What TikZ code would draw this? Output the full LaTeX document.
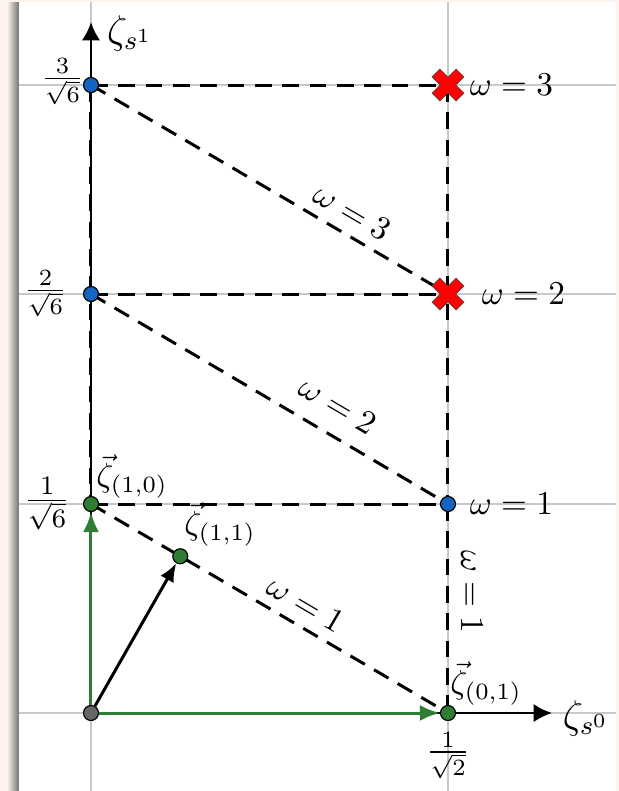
\documentclass[tikz,border=0pt]{standalone}
\usetikzlibrary{arrows.meta}
\definecolor{peach}{HTML}{FDF3EC}
\definecolor{dotgreen}{HTML}{2E7D32}
\definecolor{dotblue}{HTML}{1565C0}
\definecolor{dotgray}{HTML}{666666}
\definecolor{gridgray}{HTML}{C8C8C8}
\begin{document}
\begin{tikzpicture}[x=0.3pt,y=-0.3pt,
  gridline/.style={draw=gridgray,line width=0.35pt},
  dashline/.style={draw=black,line width=0.9pt,dash pattern=on 5pt off 3.2pt},
  axisline/.style={draw=black,line width=0.75pt,-{Latex[length=5.5pt,width=5.5pt]}},
  greenarrow/.style={draw=dotgreen,line width=0.9pt,-{Latex[length=6pt,width=4.8pt]}},
  vecarrow/.style={draw=black,line width=0.9pt,-{Latex[length=5.5pt,width=4.5pt]}},
  dot/.style={circle,draw=black,line width=0.35pt,inner sep=0pt,minimum size=4.5pt},
  lbl/.style={inner sep=1pt},
  veclbl/.style={inner sep=0.5pt},
  redcross/.pic={\fill[red,draw=black!70,line width=0.2pt]
     [rotate=45] (5.5,17) -- (5.5,5.5) -- (17,5.5) -- (17,-5.5) -- (5.5,-5.5) -- (5.5,-17)
     -- (-5.5,-17) -- (-5.5,-5.5) -- (-17,-5.5) -- (-17,5.5) -- (-5.5,5.5) -- (-5.5,17) -- cycle;}
]
\useasboundingbox (0,0) rectangle (619,791);
\fill[peach] (0,0) rectangle (619,791);
\shade[left color=peach,right color=black!55] (7,2) rectangle (19,791);
\fill[white] (19,2) rectangle (616,791);
% grid
\draw[gridline] (19,85) -- (616,85);
\draw[gridline] (19,294) -- (616,294);
\draw[gridline] (19,504) -- (616,504);
\draw[gridline] (19,713) -- (616,713);
\draw[gridline] (91,2) -- (91,791);
\draw[gridline] (448,2) -- (448,791);
% coordinates
\coordinate (O) at (91,713);
\coordinate (A) at (91,504);
\coordinate (B) at (91,294);
\coordinate (C) at (91,85);
\coordinate (D) at (448,713);
\coordinate (E) at (448,504);
\coordinate (F) at (448,294);
\coordinate (G) at (448,85);
\coordinate (M) at (180.25,556.25);
\coordinate (ytip) at (91,22);
\coordinate (xtip) at (552,713);
% axes
\draw[axisline] (O) -- (ytip);
\draw[axisline] (O) -- (xtip);
% dashed lines
\draw[dashline] (C) -- (G);
\draw[dashline] (B) -- (F);
\draw[dashline] (A) -- (E);
\draw[dashline] (C) -- (A);
\draw[dashline] (G) -- (E);
\draw[dashline] (E) -- node[lbl,sloped,above,pos=0.42,yshift=2.5pt] {$\omega=1$} (D);
\draw[dashline] (C) -- node[lbl,sloped,above,pos=0.70,yshift=2pt] {$\omega=3$} (F);
\draw[dashline] (B) -- node[lbl,sloped,above,pos=0.65,yshift=4pt] {$\omega=2$} (E);
\draw[dashline] (A) -- node[lbl,sloped,above,pos=0.57,yshift=2pt] {$\omega=1$} (D);
% dots
\node[dot,fill=dotgray] (nO) at (O) {};
\node[dot,fill=dotgreen] (nA) at (A) {};
\node[dot,fill=dotgreen] (nD) at (D) {};
\node[dot,fill=dotgreen] (nM) at (M) {};
\node[dot,fill=dotblue] (nB) at (B) {};
\node[dot,fill=dotblue] (nC) at (C) {};
\node[dot,fill=dotblue] (nE) at (E) {};
\node[dot,fill=dotblue] (nF) at (F) {};
\node[dot,fill=dotblue] (nG) at (G) {};
% vectors
\draw[greenarrow] (nO) -- (nA);
\draw[greenarrow] (nO) -- (nD);
\draw[vecarrow] (nO) -- (nM);
% crosses
\pic at (G) {redcross};
\pic at (F) {redcross};
% labels
\node[lbl,anchor=west,font=\large] (ly) at (103,33) {$\zeta_{s^1}$};
\node[lbl,anchor=west,font=\large] (lx) at (559,718) {$\zeta_{s^0}$};
\node[lbl,anchor=west] (lw3) at (466,85) {$\omega=3$};
\node[lbl,anchor=west] (lw2) at (478,294) {$\omega=2$};
\node[lbl,anchor=west] (lw1) at (466,504) {$\omega=1$};
\node[lbl,anchor=east] (t3) at (88,82) {$\frac{3}{\sqrt{6}}$};
\node[lbl,anchor=east] (t2) at (71,294) {$\frac{2}{\sqrt{6}}$};
\node[lbl,anchor=east,font=\large] (t1) at (74,504) {$\frac{1}{\sqrt{6}}$};
\node[lbl,anchor=north] (tx) at (448,728) {$\frac{1}{\sqrt{2}}$};
\node[veclbl,anchor=south west] (v10) at (94,501) {$\vec{\zeta}_{(1,0)}$};
\node[veclbl,anchor=south west] (v11) at (182,549) {$\vec{\zeta}_{(1,1)}$};
\node[veclbl,anchor=south west] (v01) at (448,708) {$\vec{\zeta}_{(0,1)}$};
\end{tikzpicture}
\end{document}
